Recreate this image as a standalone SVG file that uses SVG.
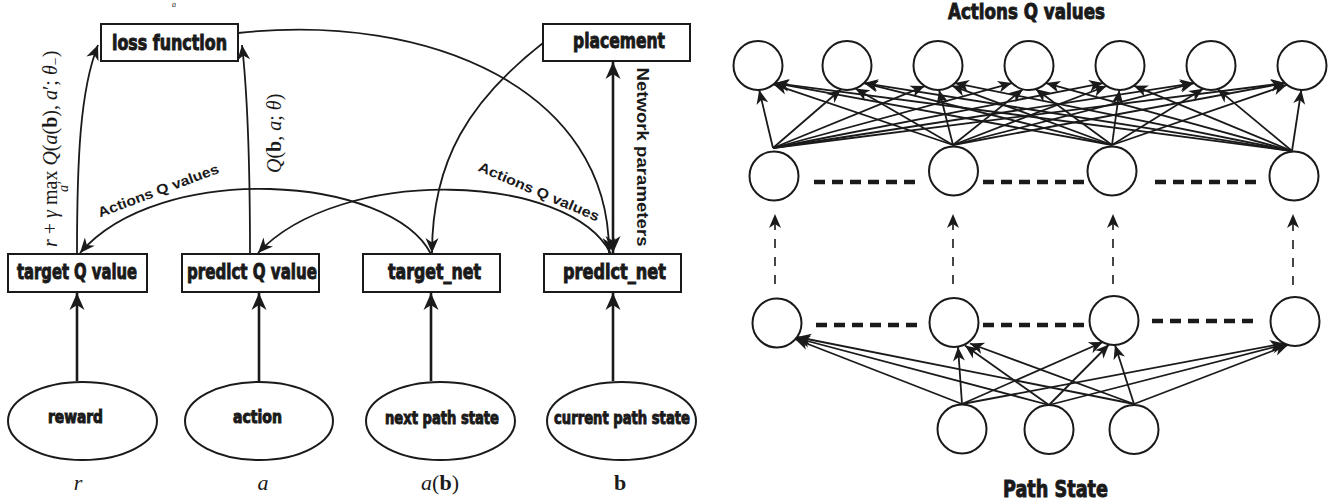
<svg xmlns="http://www.w3.org/2000/svg" width="1333" height="504" viewBox="0 0 1333 504">
<defs>
<style>
.box{fill:#fff;stroke:#1a1a1a;stroke-width:2}
.ell{fill:#fff;stroke:#1a1a1a;stroke-width:2}
.nd{fill:#fff;stroke:#1a1a1a;stroke-width:2}
.lbl{font-family:'Liberation Sans Narrow','DejaVu Sans Condensed','Liberation Sans',sans-serif;font-weight:bold;fill:#1a1a1a;text-anchor:middle;stroke:#1a1a1a;stroke-width:0.9}
.cl{font-family:'Liberation Sans','Arial',sans-serif;font-weight:bold;fill:#1a1a1a;text-anchor:middle}
.math{font-family:'Liberation Serif','DejaVu Serif',serif;fill:#1a1a1a}
.thick{fill:none;stroke:#1a1a1a;stroke-width:2.6}
.cur{fill:none;stroke:#1a1a1a;stroke-width:1.8}
.nn{fill:none;stroke:#1a1a1a;stroke-width:1.8}
.dv{fill:none;stroke:#1a1a1a;stroke-width:1.6;stroke-dasharray:9 9}
.dh{fill:none;stroke:#1a1a1a;stroke-width:4.5;stroke-dasharray:11 7}
</style>
<marker id="ahL" viewBox="-18 -9 19 18" markerWidth="19" markerHeight="18" refX="0" refY="0" orient="auto-start-reverse" markerUnits="userSpaceOnUse"><path d="M0,0 L-17,-7.5 L-12,0 L-17,7.5 Z" fill="#1a1a1a"/></marker>
<marker id="ahM" viewBox="-16 -8 17 16" markerWidth="17" markerHeight="16" refX="0" refY="0" orient="auto" markerUnits="userSpaceOnUse"><path d="M0,0 L-15,-6.5 L-10.5,0 L-15,6.5 Z" fill="#1a1a1a"/></marker>
<marker id="ahS" viewBox="-16 -8 17 16" markerWidth="17" markerHeight="16" refX="0" refY="0" orient="auto" markerUnits="userSpaceOnUse"><path d="M0,0 L-14,-6 L-10,0 L-14,6 Z" fill="#1a1a1a"/></marker>
</defs>
<rect width="1333" height="504" fill="#fff"/>

<!-- LEFT DIAGRAM connectors -->
<g id="connectors-left">
  <path class="thick" d="M77,381 L77,293" marker-end="url(#ahL)"/>
  <path class="thick" d="M259,381 L259,293" marker-end="url(#ahL)"/>
  <path class="thick" d="M431,381 L431,293" marker-end="url(#ahL)"/>
  <path class="thick" d="M613,381 L613,293" marker-end="url(#ahL)"/>
  <path class="thick" d="M613,62 L613,253" marker-start="url(#ahL)" marker-end="url(#ahL)"/>
  <path class="cur" d="M77,254 C77,160 80,90 98,45" marker-end="url(#ahM)"/>
  <path class="cur" d="M250,254 C250,150 247,90 242,45" marker-end="url(#ahM)"/>
  <path class="cur" d="M238,33 C430,12 610,90 609,253" marker-end="url(#ahM)"/>
  <path class="cur" d="M543,43 C470,100 432,160 432,253" marker-end="url(#ahM)"/>
  <path class="cur" d="M431,254 C390,175 160,160 80,253" marker-end="url(#ahM)"/>
  <path class="cur" d="M611,254 C570,172 340,165 258,253" marker-end="url(#ahM)"/>
</g>

<!-- LEFT DIAGRAM nodes -->
<g id="loss-function"><rect class="box" x="101" y="24" width="137" height="37"/><text class="lbl" x="169.5" y="50" font-size="21" textLength="115" lengthAdjust="spacingAndGlyphs">loss function</text></g>
<g id="placement"><rect class="box" x="543" y="24" width="147" height="37"/><text class="lbl" x="619" y="48" font-size="21" textLength="92" lengthAdjust="spacingAndGlyphs">placement</text></g>
<g id="target-q-value"><rect class="box" x="8" y="254" width="139" height="38"/><text class="lbl" x="77" y="279" font-size="21" textLength="120" lengthAdjust="spacingAndGlyphs">target Q value</text></g>
<g id="predict-q-value"><rect class="box" x="182" y="254" width="137" height="38"/><text class="lbl" x="252" y="279" font-size="21" textLength="130" lengthAdjust="spacingAndGlyphs">predict Q value</text></g>
<g id="target-net"><rect class="box" x="363" y="254" width="137" height="38"/><text class="lbl" x="434.5" y="279" font-size="21" textLength="93" lengthAdjust="spacingAndGlyphs">target_net</text></g>
<g id="predict-net"><rect class="box" x="544" y="254" width="137" height="38"/><text class="lbl" x="614.5" y="279" font-size="21" textLength="103" lengthAdjust="spacingAndGlyphs">predict_net</text></g>
<g id="reward"><ellipse class="ell" cx="82.5" cy="421" rx="74.5" ry="39"/><text class="lbl" x="75.5" y="423" font-size="17" textLength="55" lengthAdjust="spacingAndGlyphs">reward</text></g>
<g id="action"><ellipse class="ell" cx="259" cy="421" rx="74" ry="39"/><text class="lbl" x="257.5" y="423" font-size="17" textLength="49" lengthAdjust="spacingAndGlyphs">action</text></g>
<g id="next-path-state"><ellipse class="ell" cx="440.5" cy="421" rx="74.5" ry="39"/><text class="lbl" x="442" y="424" font-size="17" textLength="114" lengthAdjust="spacingAndGlyphs">next path state</text></g>
<g id="current-path-state"><ellipse class="ell" cx="621.5" cy="421" rx="74.5" ry="39"/><text class="lbl" x="622" y="424" font-size="17" textLength="136" lengthAdjust="spacingAndGlyphs">current path state</text></g>

<!-- LEFT DIAGRAM edge labels -->
<g id="edge-labels">
  <text class="cl" font-size="14" textLength="128" lengthAdjust="spacingAndGlyphs" transform="translate(160,195) rotate(-20.5)">Actions Q values</text>
  <text class="cl" font-size="14" textLength="130" lengthAdjust="spacingAndGlyphs" transform="translate(537,196) rotate(23)">Actions Q values</text>
  <text class="cl" font-size="17" textLength="179" lengthAdjust="spacingAndGlyphs" transform="translate(637,157) rotate(90)">Network parameters</text>
  <g transform="translate(57,247) rotate(-90)" class="math" font-size="20">
    <text x="0" y="0"><tspan font-style="italic">r</tspan> + <tspan font-style="italic">γ</tspan> max <tspan font-style="italic">Q</tspan>(<tspan font-style="italic">a</tspan>(<tspan font-weight="bold">b</tspan>), <tspan font-style="italic">a</tspan>′; <tspan font-style="italic">θ</tspan><tspan font-size="14" dy="3">−</tspan><tspan dy="-3">)</tspan></text>
    <text x="55" y="11" font-size="14" font-style="italic">a′</text>
  </g>
  <g transform="translate(281,173) rotate(-90)" class="math" font-size="20">
    <text x="0" y="0"><tspan font-style="italic">Q</tspan>(<tspan font-weight="bold">b</tspan>, <tspan font-style="italic">a</tspan>; <tspan font-style="italic">θ</tspan>)</text>
  </g>
  <text class="math" x="174" y="7" font-size="8" font-style="italic" text-anchor="middle">a</text>
  <text class="math" x="78" y="490" font-size="22" font-style="italic" text-anchor="middle">r</text>
  <text class="math" x="263" y="490" font-size="22" font-style="italic" text-anchor="middle">a</text>
  <text class="math" x="440" y="490" font-size="22" text-anchor="middle"><tspan font-style="italic">a</tspan>(<tspan font-weight="bold">b</tspan>)</text>
  <text class="math" x="620" y="490" font-size="22" font-weight="bold" text-anchor="middle">b</text>
</g>

<!-- RIGHT DIAGRAM connectors -->
<g id="connectors-right">
  <path class="nn" d="M773,148 L759.2,90" marker-end="url(#ahS)"/>
  <path class="nn" d="M953,145 L773.6,84.4" marker-end="url(#ahS)"/>
  <path class="nn" d="M1112,145 L775,83.1" marker-end="url(#ahS)"/>
  <path class="nn" d="M1292,151 L775,83.1" marker-end="url(#ahS)"/>
  <path class="nn" d="M773,148 L841,89.3" marker-end="url(#ahS)"/>
  <path class="nn" d="M953,145 L855.4,88.5" marker-end="url(#ahS)"/>
  <path class="nn" d="M1112,145 L864,83.1" marker-end="url(#ahS)"/>
  <path class="nn" d="M1292,151 L864,83.1" marker-end="url(#ahS)"/>
  <path class="nn" d="M773,148 L924.7,86.1" marker-end="url(#ahS)"/>
  <path class="nn" d="M953,145 L939.1,90" marker-end="url(#ahS)"/>
  <path class="nn" d="M1112,145 L951.8,85.7" marker-end="url(#ahS)"/>
  <path class="nn" d="M1292,151 L955,83.1" marker-end="url(#ahS)"/>
  <path class="nn" d="M773,148 L1012,83.1" marker-end="url(#ahS)"/>
  <path class="nn" d="M953,145 L1022.9,89.2" marker-end="url(#ahS)"/>
  <path class="nn" d="M1112,145 L1035.6,89.1" marker-end="url(#ahS)"/>
  <path class="nn" d="M1292,151 L1046,83.1" marker-end="url(#ahS)"/>
  <path class="nn" d="M773,148 L1103,83.1" marker-end="url(#ahS)"/>
  <path class="nn" d="M953,145 L1106.6,86" marker-end="url(#ahS)"/>
  <path class="nn" d="M1112,145 L1119.4,90" marker-end="url(#ahS)"/>
  <path class="nn" d="M1292,151 L1133.8,85.7" marker-end="url(#ahS)"/>
  <path class="nn" d="M773,148 L1194,83.1" marker-end="url(#ahS)"/>
  <path class="nn" d="M953,145 L1194,83.1" marker-end="url(#ahS)"/>
  <path class="nn" d="M1112,145 L1203.2,88.7" marker-end="url(#ahS)"/>
  <path class="nn" d="M1292,151 L1217.6,89.1" marker-end="url(#ahS)"/>
  <path class="nn" d="M773,148 L1285,83.1" marker-end="url(#ahS)"/>
  <path class="nn" d="M953,145 L1285,83.1" marker-end="url(#ahS)"/>
  <path class="nn" d="M1112,145 L1286.9,84.8" marker-end="url(#ahS)"/>
  <path class="nn" d="M1292,151 L1301.3,90" marker-end="url(#ahS)"/>
  <path class="dv" d="M775,284 L775,214" marker-end="url(#ahS)"/>
  <path class="dv" d="M953,284 L953,214" marker-end="url(#ahS)"/>
  <path class="dv" d="M1113,284 L1113,214" marker-end="url(#ahS)"/>
  <path class="dv" d="M1293,285 L1293,214" marker-end="url(#ahS)"/>
  <path class="nn" d="M962,404 L795,339" marker-end="url(#ahS)"/>
  <path class="nn" d="M1049,405 L796,338" marker-end="url(#ahS)"/>
  <path class="nn" d="M1134,404 L797,337" marker-end="url(#ahS)"/>
  <path class="nn" d="M962,404 L958,347" marker-end="url(#ahS)"/>
  <path class="nn" d="M1049,405 L965,345.5" marker-end="url(#ahS)"/>
  <path class="nn" d="M1134,404 L970,343.5" marker-end="url(#ahS)"/>
  <path class="nn" d="M962,404 L1103,342" marker-end="url(#ahS)"/>
  <path class="nn" d="M1049,405 L1109,344.5" marker-end="url(#ahS)"/>
  <path class="nn" d="M1134,404 L1115,345" marker-end="url(#ahS)"/>
  <path class="nn" d="M962,404 L1284,343.4" marker-end="url(#ahS)"/>
  <path class="nn" d="M1049,405 L1286,344" marker-end="url(#ahS)"/>
  <path class="nn" d="M1134,404 L1288,345" marker-end="url(#ahS)"/>
  <path class="dh" d="M814,182 L915,182"/>
  <path class="dh" d="M983,182 L1084,182"/>
  <path class="dh" d="M1155,182 L1256,182"/>
  <path class="dh" d="M816,325 L917,325"/>
  <path class="dh" d="M983,325 L1084,325"/>
  <path class="dh" d="M1152,321 L1253,321"/>
</g>

<!-- RIGHT DIAGRAM nodes -->
<g id="out-1"><circle class="nd" cx="758" cy="65.5" r="24.5"/></g>
<g id="out-2"><circle class="nd" cx="847" cy="65.5" r="24.5"/></g>
<g id="out-3"><circle class="nd" cx="938" cy="65.5" r="24.5"/></g>
<g id="out-4"><circle class="nd" cx="1029" cy="65.5" r="24.5"/></g>
<g id="out-5"><circle class="nd" cx="1120" cy="65.5" r="24.5"/></g>
<g id="out-6"><circle class="nd" cx="1211" cy="65.5" r="24.5"/></g>
<g id="out-7"><circle class="nd" cx="1302" cy="65.5" r="24.5"/></g>
<g id="h2-1"><circle class="nd" cx="774" cy="176" r="24.5"/></g>
<g id="h2-2"><circle class="nd" cx="953.5" cy="171" r="24.5"/></g>
<g id="h2-3"><circle class="nd" cx="1112" cy="171" r="24.5"/></g>
<g id="h2-4"><circle class="nd" cx="1294" cy="176" r="24.5"/></g>
<g id="h1-1"><circle class="nd" cx="777" cy="323" r="24.5"/></g>
<g id="h1-2"><circle class="nd" cx="954" cy="322.5" r="24.5"/></g>
<g id="h1-3"><circle class="nd" cx="1114" cy="320.5" r="24.5"/></g>
<g id="h1-4"><circle class="nd" cx="1295" cy="321.5" r="24.5"/></g>
<g id="in-1"><circle class="nd" cx="962" cy="429" r="24.5"/></g>
<g id="in-2"><circle class="nd" cx="1049" cy="429.5" r="24.5"/></g>
<g id="in-3"><circle class="nd" cx="1134" cy="429.5" r="24.5"/></g>

<g id="titles">
  <text class="lbl" x="1026.5" y="19" font-size="21" textLength="157" lengthAdjust="spacingAndGlyphs">Actions Q values</text>
  <text class="lbl" x="1055.5" y="497" font-size="23" textLength="105" lengthAdjust="spacingAndGlyphs">Path State</text>
</g>
</svg>
